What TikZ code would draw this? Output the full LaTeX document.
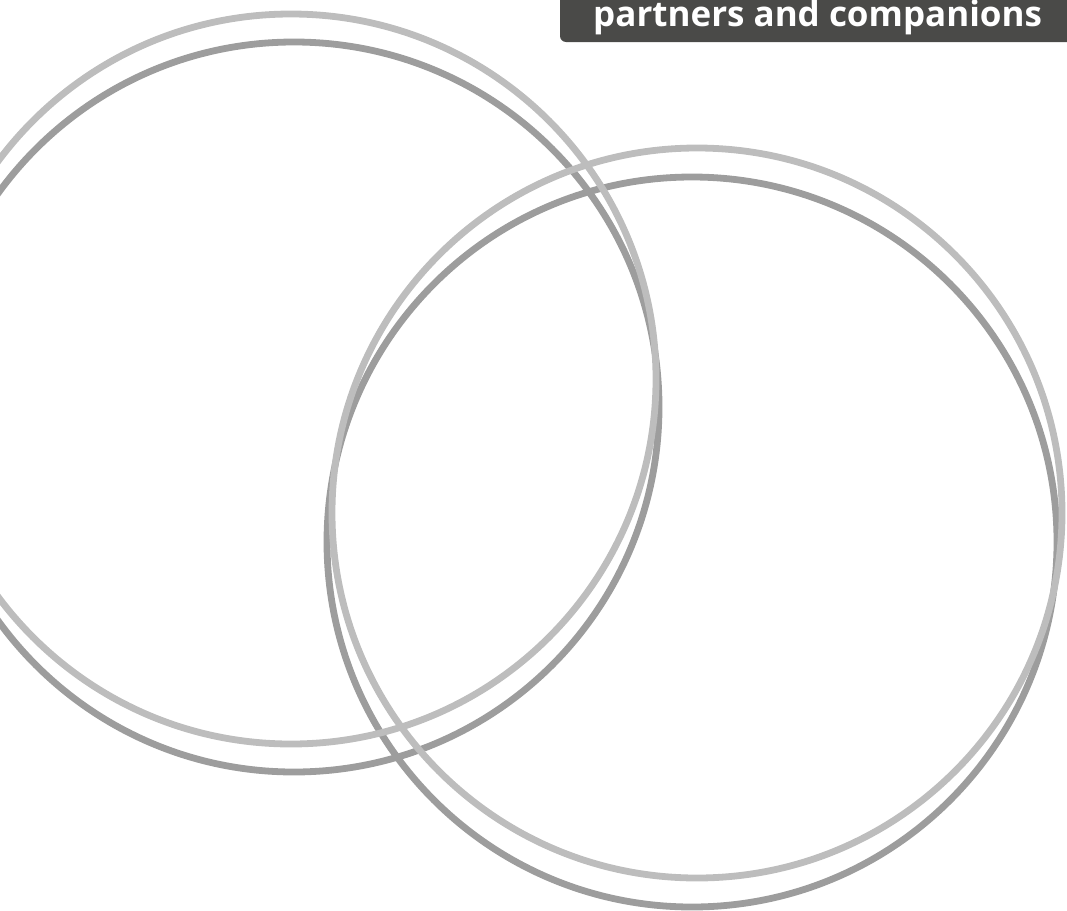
\documentclass[tikz,border=0pt]{standalone}
\usepackage{fontspec}
\newfontfamily\tagfont{Open Sans}
\definecolor{ringlight}{HTML}{BDBDBD}
\definecolor{ringdark}{HTML}{9D9D9D}
\definecolor{tagbg}{HTML}{4A4A48}
\tikzset{
  ring/.style={line width=6.8pt},
  tagtext/.style={anchor=base west, inner sep=0pt, text=white,
    font=\tagfont\bfseries\fontsize{35}{40}\selectfont}
}

\begin{document}
\begin{tikzpicture}[x=1pt,y=-1pt]

\useasboundingbox (0,0) rectangle (1067,910);
\clip (0,0) rectangle (1067,910);

% dark rings go under the light ones
\foreach \cx/\cy in {294/407,692/542}
\draw[ring,ringdark] (\cx,\cy) circle [radius=365pt];
\foreach \cx/\cy in {291/379,697/513} % light rings
\draw[ring,ringlight] (\cx,\cy) circle [radius=365pt];

% title tab, cut by the top edge
\fill[tagbg, rounded corners=6pt] (560,-20) rectangle (1090,42);
\node[tagtext] (tag) at (593,26) {partners and companions};

\end{tikzpicture}
\end{document}
